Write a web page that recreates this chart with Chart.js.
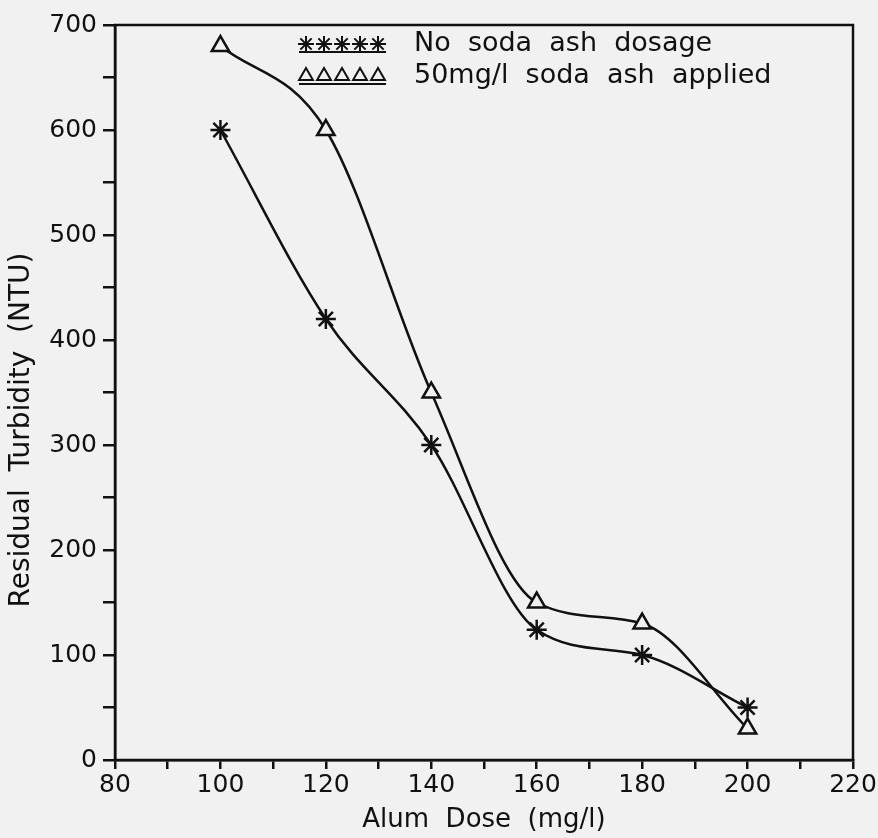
<!DOCTYPE html>
<html>
<head>
<meta charset="utf-8">
<script src="https://cdn.jsdelivr.net/npm/chart.js@4/dist/chart.umd.min.js"></script>
<style>
  html, body { margin: 0; padding: 0; background: #f1f1f1; }
  #wrap { width: 878px; height: 838px; }
</style>
</head>
<body>
<div id="wrap"><canvas id="chart" width="878" height="838"></canvas></div>
<script>
// Alum dose (mg/l) on x, residual turbidity (NTU) on y
const alumDose = [100, 120, 140, 160, 180, 200];
const noSodaAsh = [600, 420, 300, 124, 100, 50];
const sodaAsh50 = [680, 600, 350, 150, 130, 30];
const seriesNames = ["No  soda  ash  dosage", "50mg/l  soda  ash  applied"];
const yTitle = "Residual  Turbidity  (NTU)";

const FONT = "'DejaVu Sans', sans-serif";
const INK = "#111";
const PAPER = "#f1f1f1";

// closed frame around the plot area
const frame = {
  id: "frame",
  afterDraw(chart) {
    const { ctx, chartArea: a } = chart;
    ctx.save();
    ctx.strokeStyle = INK;
    ctx.lineWidth = 2.5;
    ctx.strokeRect(a.left, a.top, a.right - a.left, a.bottom - a.top);
    ctx.restore();
  }
};

// y title sits a bit below the middle of the axis, so draw it by hand
const sideTitle = {
  id: "sideTitle",
  afterDraw(chart) {
    const { ctx } = chart;
    ctx.save();
    ctx.translate(22, 430);
    ctx.rotate(-Math.PI / 2);
    ctx.fillStyle = INK;
    ctx.font = "28px " + FONT;
    ctx.textAlign = "center";
    ctx.textBaseline = "middle";
    ctx.fillText(yTitle, 0, 0);
    ctx.restore();
  }
};

// legend drawn as a row of five markers with an underline, then the name
const markerLegend = {
  id: "markerLegend",
  afterDraw(chart) {
    const { ctx } = chart;
    const rows = chart.data.datasets.map((ds, i) => ({
      style: ds.pointStyle, label: seriesNames[i], y: 44 + i * 32
    }));
    ctx.save();
    rows.forEach(r => {
      ctx.strokeStyle = INK;
      ctx.fillStyle = PAPER;
      ctx.lineWidth = 2;
      for (let k = 0; k < 5; k++) {
        Chart.helpers.drawPoint(ctx, {
          pointStyle: r.style, radius: 8, rotation: 0, borderWidth: 2
        }, 306 + k * 18, r.y);
      }
      ctx.lineWidth = 2;
      ctx.beginPath();
      ctx.moveTo(299, r.y + 8);
      ctx.lineTo(386, r.y + 8);
      ctx.stroke();
      ctx.fillStyle = INK;
      ctx.font = "27px " + FONT;
      ctx.textBaseline = "middle";
      ctx.fillText(r.label, 414, r.y);
    });
    ctx.restore();
  }
};

const ctx = document.getElementById("chart").getContext("2d");

new Chart(ctx, {
  type: "line",
  data: {
    labels: alumDose,
    datasets: [
      {
        label: seriesNames[0],
        data: alumDose.map((x, i) => ({ x, y: noSodaAsh[i] })),
        borderColor: INK,
        borderWidth: 2.5,
        pointStyle: "star",
        pointRadius: 10,
        pointBorderWidth: 2.5,
        pointBorderColor: INK,
        pointBackgroundColor: INK,
        cubicInterpolationMode: "monotone",
        fill: false
      },
      {
        label: seriesNames[1],
        data: alumDose.map((x, i) => ({ x, y: sodaAsh50[i] })),
        borderColor: INK,
        borderWidth: 2.5,
        pointStyle: "triangle",
        pointRadius: 10,
        pointBorderWidth: 2.5,
        pointBorderColor: INK,
        pointBackgroundColor: PAPER,
        cubicInterpolationMode: "monotone",
        fill: false
      }
    ]
  },
  options: {
    responsive: false,
    animation: false,
    layout: { padding: { top: 25, right: 25, left: 0, bottom: 0 } },
    plugins: {
      legend: { display: false },
      tooltip: { enabled: false }
    },
    scales: {
      x: {
        type: "linear",
        min: 80,
        max: 220,
        afterFit(scale) { scale.height = 78; },
        border: { color: INK, width: 2.5 },
        grid: { drawOnChartArea: false, drawTicks: true, tickLength: 9, color: INK, lineWidth: 2.5 },
        ticks: {
          stepSize: 10,
          color: INK,
          font: { family: FONT, size: 25 },
          padding: 1,
          maxRotation: 0,
          autoSkip: false,
          callback: v => (v % 20 === 0 ? v : "")
        },
        title: {
          display: true,
          text: "Alum  Dose  (mg/l)",
          color: INK,
          font: { family: FONT, size: 26 },
          padding: { top: 0, bottom: 2 }
        }
      },
      y: {
        min: 0,
        max: 700,
        afterFit(scale) { scale.width = 115; },
        border: { color: INK, width: 2.5 },
        grid: { drawOnChartArea: false, drawTicks: true, tickLength: 12, color: INK, lineWidth: 2.5 },
        ticks: {
          stepSize: 50,
          color: INK,
          font: { family: FONT, size: 25 },
          padding: 6,
          autoSkip: false,
          callback: v => (v % 100 === 0 ? v : "")
        },
        title: { display: false }
      }
    }
  },
  plugins: [frame, sideTitle, markerLegend]
});
</script>
</body>
</html>
